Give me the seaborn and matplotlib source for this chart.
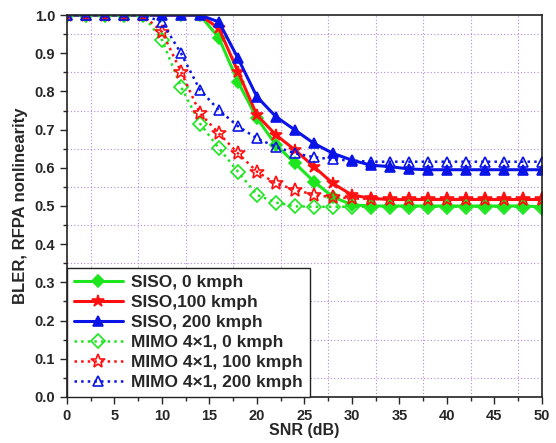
import matplotlib
matplotlib.use("Agg")
import matplotlib.pyplot as plt
import seaborn as sns
import numpy as np
from matplotlib.ticker import MultipleLocator

snr = [0, 2, 4, 6, 8, 10, 12, 14, 16, 18, 20, 22, 24, 26, 28, 30,
       32, 34, 36, 38, 40, 42, 44, 46, 48, 50]

siso_0 = [1, 1, 1, 1, 1, 1, 1, 1, 0.94, 0.825, 0.73, 0.66, 0.612, 0.564, 0.524, 0.503,
          0.50, 0.50, 0.50, 0.50, 0.50, 0.50, 0.50, 0.50, 0.50, 0.498]
siso_100 = [1, 1, 1, 1, 1, 1, 1, 1, 0.965, 0.852, 0.738, 0.686, 0.647, 0.603, 0.559, 0.529,
            0.52, 0.517, 0.517, 0.517, 0.517, 0.517, 0.517, 0.517, 0.517, 0.517]
siso_200 = [1, 1, 1, 1, 1, 1, 1, 1, 0.982, 0.887, 0.786, 0.734, 0.699, 0.664, 0.638, 0.62,
            0.607, 0.603, 0.597, 0.595, 0.595, 0.595, 0.595, 0.595, 0.595, 0.595]
mimo_0 = [1, 1, 1, 1, 1, 0.935, 0.812, 0.716, 0.651, 0.59, 0.529, 0.509, 0.499,
          0.498, 0.498, 0.498, 0.498, 0.498, 0.498, 0.498, 0.498, 0.498, 0.498, 0.498, 0.498, 0.496]
mimo_100 = [1, 1, 1, 1, 1, 0.956, 0.852, 0.743, 0.69, 0.638, 0.59, 0.559, 0.543, 0.529, 0.523, 0.52,
            0.518, 0.518, 0.518, 0.518, 0.518, 0.518, 0.518, 0.518, 0.518, 0.518]
mimo_200 = [1, 1, 1, 1, 1, 0.982, 0.9, 0.804, 0.751, 0.709, 0.677, 0.655, 0.638, 0.628, 0.622, 0.619,
            0.616, 0.616, 0.616, 0.616, 0.616, 0.616, 0.616, 0.616, 0.616, 0.616]

labels = ["SISO, 0 kmph", "SISO,100 kmph", "SISO, 200 kmph",
          "MIMO 4\u00d71, 0 kmph", "MIMO 4\u00d71, 100 kmph", "MIMO 4\u00d71, 200 kmph"]

sns.set_style("ticks")
plt.rcParams['font.family'] = ['Liberation Sans', 'DejaVu Sans']
plt.rcParams['font.weight'] = 'bold'

fig = plt.figure(figsize=(5.56, 4.43), dpi=100)
ax = fig.add_axes([0.1205, 0.104, 0.854, 0.862])

green = "#1ee61e"
red = "#ff1010"
blue = "#0a14e6"

series = [
    (siso_0, green, '-', 'D', True, 6),
    (siso_100, red, '-', '*', True, 9),
    (siso_200, blue, '-', '^', True, 7.5),
    (mimo_0, green, ':', 'D', False, 7),
    (mimo_100, red, ':', '*', False, 10),
    (mimo_200, blue, ':', '^', False, 7.5),
]

for (vals, col, ls, mk, filled, ms), lab in zip(series, labels):
    sns.lineplot(x=snr, y=vals, ax=ax, color=col, linestyle=ls,
                 linewidth=2.2 if ls == '-' else 1.8,
                 marker=mk, markersize=ms,
                 markerfacecolor=col if filled else 'none',
                 markeredgecolor=col, markeredgewidth=1.2,
                 label=lab)

ax.set_xlim(0, 50)
ax.set_ylim(0, 1.0)
ax.xaxis.set_major_locator(MultipleLocator(5))
ax.xaxis.set_minor_locator(MultipleLocator(2.5))
ax.yaxis.set_major_locator(MultipleLocator(0.1))
ax.yaxis.set_minor_locator(MultipleLocator(0.05))
ax.yaxis.set_major_formatter(matplotlib.ticker.FormatStrFormatter('%.1f'))

# grid on the half-step positions
ax.grid(False)
for gx in np.arange(2.5, 50, 5):
    ax.axvline(gx, color="#b58ae0", linestyle=(0, (1, 2)), linewidth=0.8, zorder=0)
for gy in np.arange(0.05, 1.0, 0.1):
    ax.axhline(gy, color="#b58ae0", linestyle=(0, (1, 2)), linewidth=0.8, zorder=0)

ax.tick_params(which='major', direction='out', length=5, width=1, labelsize=10.5)
ax.tick_params(which='minor', direction='out', length=3, width=1)
for t in ax.get_xticklabels() + ax.get_yticklabels():
    t.set_fontweight('bold')
for sp in ax.spines.values():
    sp.set_visible(True)
    sp.set_color('#222222')
    sp.set_linewidth(1.2)

ax.set_xlabel("SNR (dB)", fontsize=11.5, fontweight='bold', labelpad=0)
ax.set_ylabel("BLER, RFPA nonlinearity", fontsize=12, fontweight='bold', labelpad=5)

leg = ax.legend(loc='lower left', borderaxespad=0, fancybox=False, framealpha=1,
                edgecolor='#222222', prop={'weight': 'bold', 'size': 12.5},
                handlelength=2.8, labelspacing=0.28, borderpad=0.4, handletextpad=0.5)
leg.get_frame().set_linewidth(1.0)

fig.savefig("out.png", dpi=100)
